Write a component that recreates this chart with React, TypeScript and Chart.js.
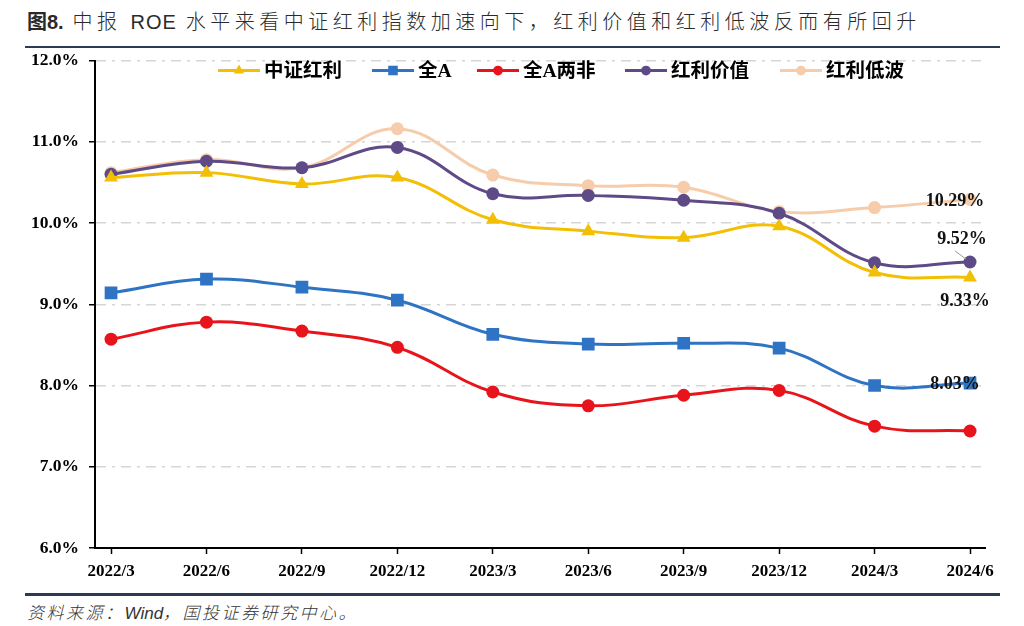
import React, { useEffect, useRef } from "react";
import { Chart, registerables } from "chart.js";

Chart.register(...registerables);

const categories = ["2022/3", "2022/6", "2022/9", "2022/12", "2023/3", "2023/6", "2023/9", "2023/12", "2024/3", "2024/6"];
const csiDividend = [10.56, 10.62, 10.48, 10.56, 10.04, 9.9, 9.82, 9.96, 9.39, 9.33];
const allA = [9.14, 9.31, 9.21, 9.05, 8.63, 8.51, 8.52, 8.46, 8.0, 8.03];
const allAExFin = [8.57, 8.78, 8.67, 8.47, 7.92, 7.75, 7.88, 7.94, 7.5, 7.44];
const dividendValue = [10.6, 10.76, 10.68, 10.93, 10.36, 10.34, 10.28, 10.12, 9.51, 9.52];
const dividendLowVol = [10.62, 10.78, 10.68, 11.16, 10.59, 10.46, 10.44, 10.14, 10.19, 10.29];
const seriesNames = ["中证红利", "全A", "全A两非", "红利价值", "红利低波"];
const yMin = 6;
const yMax = 12;

const NUM_FONT = "'Liberation Serif', 'Noto Sans CJK SC', serif";

const styles = [
  { color: "#F2BF05", point: "triangle", radius: 8 },
  { color: "#2E73C4", point: "rect", radius: 9 },
  { color: "#E8141B", point: "circle", radius: 6.5 },
  { color: "#5E4A86", point: "circle", radius: 6.5 },
  { color: "#F6CCAB", point: "circle", radius: 6.5 },
];

// legend item start x (canvas px)
const legendStarts = [218, 372, 477, 625, 780];

// end-of-series labels (dataset index, pixel offset from point)
const endLabels = [
  { ds: 4, dx: -15, dy: 2 },
  { ds: 3, dx: -8, dy: -23, leader: true },
  { ds: 0, dx: -5, dy: 24 },
  { ds: 1, dx: -15, dy: 1 },
];

function drawMarker(ctx: CanvasRenderingContext2D, kind: string, x: number, y: number, r: number, color: string) {
  ctx.save();
  ctx.fillStyle = color;
  ctx.beginPath();
  if (kind === "triangle") {
    ctx.moveTo(x, y - r);
    ctx.lineTo(x + r * 0.866, y + r * 0.5);
    ctx.lineTo(x - r * 0.866, y + r * 0.5);
    ctx.closePath();
  } else if (kind === "rect") {
    const s = r * Math.SQRT1_2;
    ctx.rect(x - s, y - s, 2 * s, 2 * s);
  } else {
    ctx.arc(x, y, r, 0, Math.PI * 2);
  }
  ctx.fill();
  ctx.restore();
}

const legendPlugin = {
  id: "customLegend",
  afterDraw(chart: any) {
    const ctx = chart.ctx as CanvasRenderingContext2D;
    const y = chart.chartArea.top + 10;
    ctx.save();
    ctx.font = `bold 19.5px ${NUM_FONT}`;
    ctx.textBaseline = "middle";
    seriesNames.forEach((name, i) => {
      const x = legendStarts[i];
      const st = styles[i];
      ctx.strokeStyle = st.color;
      ctx.lineWidth = 3;
      ctx.beginPath();
      ctx.moveTo(x, y);
      ctx.lineTo(x + 42, y);
      ctx.stroke();
      drawMarker(ctx, st.point, x + 21, y, st.radius * 0.75, st.color);
      ctx.fillStyle = "#000";
      ctx.fillText(name, x + 46, y + 1);
    });
    ctx.restore();
  },
};

const endLabelPlugin = {
  id: "endLabels",
  afterDatasetsDraw(chart: any) {
    const ctx = chart.ctx as CanvasRenderingContext2D;
    ctx.save();
    ctx.font = `bold 18px ${NUM_FONT}`;
    ctx.textAlign = "center";
    ctx.textBaseline = "middle";
    endLabels.forEach((l) => {
      const meta = chart.getDatasetMeta(l.ds);
      const pts = meta.data;
      const p = pts[pts.length - 1];
      const ds = chart.data.datasets[l.ds].data;
      const v = ds[ds.length - 1].y as number;
      if (l.leader) {
        ctx.strokeStyle = "#999";
        ctx.lineWidth = 1;
        ctx.beginPath();
        ctx.moveTo(p.x - 15, p.y - 11);
        ctx.lineTo(p.x - 4, p.y - 3);
        ctx.stroke();
      }
      ctx.fillStyle = "#111";
      ctx.fillText(`${v.toFixed(2)}%`, p.x + l.dx, p.y + l.dy);
    });
    ctx.restore();
  },
};

function ChartCanvas() {
  const ref = useRef<HTMLCanvasElement | null>(null);
  useEffect(() => {
    if (!ref.current) return;
    const series = [csiDividend, allA, allAExFin, dividendValue, dividendLowVol];
    const chart = new Chart(ref.current, {
      type: "line",
      data: {
        datasets: series.map((vals, i) => ({
          label: seriesNames[i],
          data: vals.map((v, j) => ({ x: j, y: v })),
          borderColor: styles[i].color,
          backgroundColor: styles[i].color,
          pointBackgroundColor: styles[i].color,
          pointBorderColor: styles[i].color,
          pointBorderWidth: 0,
          pointStyle: styles[i].point as any,
          pointRadius: styles[i].radius,
          borderWidth: 3,
          tension: 0.4,
          fill: false,
        })),
      },
      options: {
        animation: false,
        responsive: false,
        maintainAspectRatio: false,
        layout: { padding: { top: 0, right: 39, left: 0, bottom: 0 } },
        plugins: { legend: { display: false }, tooltip: { enabled: false } },
        scales: {
          x: {
            type: "linear",
            min: -0.168,
            max: 9.157,
            afterBuildTicks: (s: any) => {
              s.ticks = categories.map((_, i) => ({ value: i }));
            },
            afterFit: (s: any) => {
              s.height = 42;
            },
            ticks: {
              autoSkip: false,
              maxRotation: 0,
              padding: 7,
              color: "#000",
              font: { family: NUM_FONT, size: 17, weight: "bold" },
              callback: (v: any) => categories[v] ?? "",
            },
            grid: { display: true, drawOnChartArea: false, drawTicks: true, tickLength: 6, tickColor: "#000", tickWidth: 1.5 },
            border: { display: true, color: "#000", width: 2 },
          },
          y: {
            min: yMin,
            max: yMax,
            afterFit: (s: any) => {
              s.width = 95;
            },
            ticks: {
              stepSize: 1,
              padding: 10,
              color: "#000",
              font: { family: NUM_FONT, size: 17.5, weight: "bold" },
              callback: (v: any) => `${Number(v).toFixed(1)}%`,
            },
            grid: { color: "#D6D6D6", lineWidth: 1.5, tickLength: 6, tickColor: "#000", tickWidth: 1.5, tickBorderDash: [] },
            border: { display: true, color: "#000", width: 2, dash: [10, 6, 3, 6] },
          },
        },
      },
      plugins: [legendPlugin, endLabelPlugin],
    });
    return () => chart.destroy();
  }, []);
  return <canvas ref={ref} width={1024} height={550} style={{ position: "absolute", left: 0, top: 40, width: 1024, height: 550 }} />;
}

export default function App() {
  return (
    <div style={{ position: "fixed", left: 0, top: 0, width: 1024, height: 626, background: "#fff", overflow: "hidden" }}>
      <ChartCanvas />
      <div
        style={{
          position: "absolute",
          left: 27,
          top: 8,
          fontFamily: "'Noto Sans CJK SC', sans-serif",
          fontSize: 20,
          lineHeight: "26px",
          letterSpacing: 4.5,
          fontWeight: 300,
          color: "#2a2a2a",
          whiteSpace: "nowrap",
        }}
      >
        <span style={{ fontWeight: 700, fontFamily: "'Liberation Sans', 'Noto Sans CJK SC', sans-serif", letterSpacing: 0 }}>图8.</span>
        <span> 中报 <span style={{ fontFamily: "'Liberation Sans', sans-serif", letterSpacing: 1 }}>ROE</span> 水平来看中证红利指数加速向下，红利价值和红利低波反而有所回升</span>
      </div>
      <div style={{ position: "absolute", left: 25, top: 46, width: 975, height: 2, background: "#2D3A55" }} />
      <div style={{ position: "absolute", left: 25, top: 593, width: 975, height: 3, background: "#2D3A55" }} />
      <div
        style={{
          position: "absolute",
          left: 27,
          top: 600,
          fontFamily: "'Noto Sans CJK SC', sans-serif",
          fontSize: 17,
          lineHeight: "24px",
          letterSpacing: 2.5,
          fontStyle: "italic",
          fontWeight: 300,
          color: "#333",
          whiteSpace: "nowrap",
        }}
      >
        资料来源：<span style={{ fontFamily: "'Liberation Sans', sans-serif", letterSpacing: 0 }}>Wind</span>，国投证券研究中心。
      </div>
    </div>
  );
}
